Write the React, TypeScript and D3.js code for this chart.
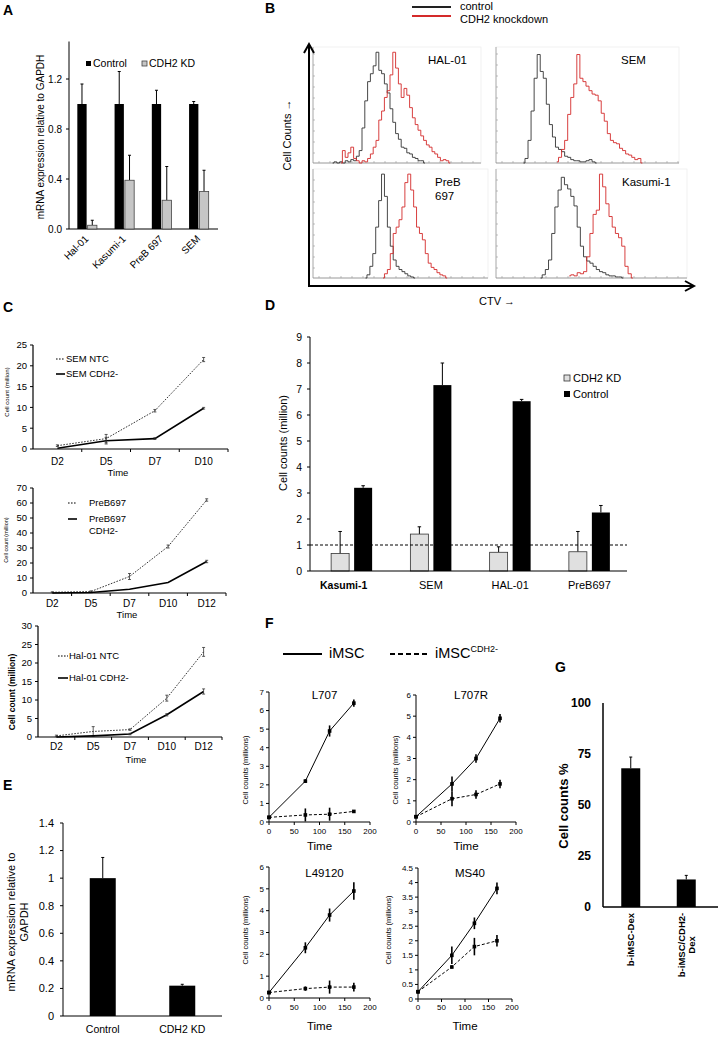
import React from "react";
import * as d3 from "d3";

const FONT = "'Liberation Sans', Arial, Helvetica, sans-serif";

// ---- A: mRNA expression, 4 cell lines
const aLines = ["Hal-01", "Kasumi-1", "PreB 697", "SEM"];
const aControl = [1, 1, 1, 1];
const aControlErr = [0.16, 0.26, 0.11, 0.02];
const aKD = [0.03, 0.39, 0.23, 0.3];
const aKDErr = [0.04, 0.2, 0.27, 0.17];
const aTicks = [0, 0.4, 0.8, 1.2];

// ---- B: CTV histograms (bin start + heights, % of panel max)
const bHalCtrl = { start: 7, h: [0, 1, 0, 1, 0, 2, 1, 3, 2, 6, 11, 31, 55, 72, 79, 86, 98, 82, 79, 70, 62, 48, 36, 26, 21, 14, 13, 9, 8, 5, 4, 2, 2, 0] };
const bHalKD = { start: 10, h: [0, 11, 5, 9, 14, 4, 2, 0, 2, 1, 4, 8, 14, 20, 38, 46, 58, 64, 78, 98, 84, 70, 58, 66, 60, 49, 40, 34, 29, 24, 20, 16, 14, 10, 8, 5, 2, 3, 2, 0] };
const bSemCtrl = { start: 9, h: [0, 4, 20, 46, 75, 96, 81, 75, 52, 34, 23, 14, 12, 10, 6, 5, 3, 2, 2, 1, 1, 2, 3, 1, 0] };
const bSemKD = { start: 20, h: [1, 5, 12, 20, 43, 58, 70, 96, 75, 72, 68, 64, 61, 60, 55, 44, 37, 26, 20, 18, 17, 13, 11, 8, 7, 5, 3, 4, 0] };
const bPreCtrl = { start: 18, h: [0, 3, 11, 23, 48, 73, 98, 77, 48, 30, 17, 11, 8, 6, 4, 2, 1, 0] };
const bPreKD = { start: 24, h: [0, 4, 8, 23, 42, 48, 55, 67, 90, 98, 83, 67, 48, 42, 36, 23, 14, 10, 8, 5, 3, 2, 0] };
const bKasCtrl = { start: 14, h: [0, 3, 8, 17, 42, 67, 83, 95, 88, 84, 77, 68, 48, 30, 20, 16, 14, 11, 8, 6, 5, 3, 2, 2, 1, 1, 0] };
const bKasKD = { start: 23, h: [2, 3, 2, 5, 4, 6, 20, 42, 60, 64, 98, 86, 70, 58, 48, 42, 38, 30, 11, 4, 0] };

// ---- C: growth curves
const cDays4 = ["D2", "D5", "D7", "D10"];
const cDays5 = ["D2", "D5", "D7", "D10", "D12"];
const cSemNTC = [0.8, 2.5, 9.2, 21.5];
const cSemNTCErr = [0.2, 1.0, 0.3, 0.5];
const cSemKD = [0.2, 2.0, 2.5, 9.8];
const cSemKDErr = [0, 0.8, 0.2, 0.2];
const cPreNTC = [0.5, 1, 11, 31, 62];
const cPreNTCErr = [0.3, 0.4, 2, 1, 0.8];
const cPreKD = [0, 0.3, 2.5, 7, 21];
const cPreKDErr = [0, 0, 0, 0, 0.8];
const cHalNTC = [0.3, 1.5, 2, 10.5, 23];
const cHalNTCErr = [0.2, 1.3, 0.2, 0.8, 1.2];
const cHalKD = [0, 0.3, 0.8, 6, 12.3];
const cHalKDErr = [0, 0, 0.2, 0.3, 0.7];

// ---- D: cell counts
const dLines = ["Kasumi-1", "SEM", "HAL-01", "PreB697"];
const dKD = [0.67, 1.42, 0.72, 0.74];
const dKDErr = [0.85, 0.28, 0.21, 0.78];
const dControl = [3.2, 7.15, 6.53, 2.25];
const dControlErr = [0.08, 0.85, 0.07, 0.27];

// ---- E: mRNA
const eGroups = ["Control", "CDH2 KD"];
const eVals = [1.0, 0.22];
const eErr = [0.15, 0.01];

// ---- F: iMSC co-culture time courses
const fHours = [0, 72, 120, 168];
const fXTicks = [0, 50, 100, 150, 200];
const fL707 = [0.25, 2.2, 4.9, 6.4];
const fL707Err = [0.05, 0.1, 0.3, 0.2];
const fL707KD = [0.25, 0.38, 0.42, 0.57];
const fL707KDErr = [0.05, 0.35, 0.35, 0.08];
const fL707R = [0.25, 1.8, 3.0, 4.9];
const fL707RErr = [0.05, 0.35, 0.2, 0.2];
const fL707RKD = [0.25, 1.1, 1.3, 1.8];
const fL707RKDErr = [0.05, 0.35, 0.2, 0.2];
const fL49120 = [0.25, 2.3, 3.8, 4.9];
const fL49120Err = [0.05, 0.25, 0.3, 0.4];
const fL49120KD = [0.25, 0.43, 0.5, 0.5];
const fL49120KDErr = [0.05, 0.1, 0.3, 0.2];
const fMS40 = [0.25, 1.5, 2.6, 3.8];
const fMS40Err = [0.05, 0.3, 0.2, 0.2];
const fMS40KD = [0.25, 1.1, 1.8, 2.0];
const fMS40KDErr = [0.05, 0.05, 0.3, 0.2];

// ---- G: cell counts %
const gLabels = [["b-iMSC-Dex"], ["b-iMSC/CDH2-", "Dex"]];
const gVals = [68, 13.5];
const gErr = [5.5, 2];
const gTicks = [0, 25, 50, 75, 100];

function UpErr({ x, y0, y1, cap = 3 }: any) {
  return (
    <g stroke="#000" strokeWidth={1}>
      <line x1={x} x2={x} y1={y0} y2={y1} />
      <line x1={x - cap / 2} x2={x + cap / 2} y1={y1} y2={y1} />
    </g>
  );
}

function YAxis({ y, x, ticks, top, fs, gap = 6, fmt = (t: number) => String(t), bold = false, tick = 3, sw = 1 }: any) {
  return (
    <g>
      <line x1={x} x2={x} y1={y.range()[0]} y2={top ?? y.range()[1]} stroke="#000" strokeWidth={sw} />
      {ticks.map((t: number) => (
        <g key={t}>
          {tick > 0 && <line x1={x - tick} x2={x} y1={y(t)} y2={y(t)} stroke="#000" />}
          <text x={x - gap} y={y(t)} dy="0.35em" textAnchor="end" fontSize={fs} fontWeight={bold ? "bold" : "normal"}>
            {fmt(t)}
          </text>
        </g>
      ))}
    </g>
  );
}

function VText({ x, y, fs, children, bold = false, anchor = "middle" }: any) {
  return (
    <text transform={`translate(${x},${y}) rotate(-90)`} textAnchor={anchor} dominantBaseline="central" fontSize={fs} fontWeight={bold ? "bold" : "normal"}>
      {children}
    </text>
  );
}

function PanelA() {
  const x = d3.scaleBand<string>().domain(aLines).range([69, 218]);
  const y = d3.scaleLinear().domain([0, 1.5]).range([229, 41.5]);
  const bw = 9.3;
  return (
    <g>
      <text x={3} y={15} fontSize={14} fontWeight="bold">A</text>
      <YAxis y={y} x={69} ticks={aTicks} fs={10} gap={7} fmt={(t: number) => t.toFixed(1)} />
      <line x1={69} x2={218} y1={229} y2={229} stroke="#000" />
      {aLines.map((name, i) => {
        const c = x(name)! + x.bandwidth() / 2;
        return (
          <g key={name}>
            <UpErr x={c - 1 - bw / 2} y0={y(aControl[i])} y1={y(aControl[i] + aControlErr[i])} />
            <rect x={c - 1 - bw} y={y(aControl[i])} width={bw} height={y(0) - y(aControl[i])} fill="#000" />
            <UpErr x={c + bw / 2} y0={y(aKD[i])} y1={y(aKD[i] + aKDErr[i])} />
            <rect x={c} y={y(aKD[i])} width={bw} height={y(0) - y(aKD[i])} fill="#c6c6c6" stroke="#444" strokeWidth={0.8} />
            <text transform={`translate(${c - 1},${237}) rotate(-45)`} textAnchor="end" dominantBaseline="central" fontSize={10}>
              {name}
            </text>
          </g>
        );
      })}
      <rect x={86} y={61} width={5} height={5} fill="#000" />
      <text x={93} y={67} fontSize={10.5}>Control</text>
      <rect x={142} y={61} width={5} height={5} fill="#c6c6c6" stroke="#444" strokeWidth={0.8} />
      <text x={149} y={67} fontSize={10.5}>CDH2 KD</text>
      <VText x={40} y={137} fs={10}>mRNA expression relative to GAPDH</VText>
    </g>
  );
}

function Histo({ x0, x1, yb, yt, ctrl, kd, label }: any) {
  const x = d3.scaleLinear().domain([0, 60]).range([x0, x1]);
  const y = d3.scaleLinear().domain([0, 100]).range([yb, yt]);
  const line = d3
    .line<[number, number]>()
    .x((d) => x(d[0]))
    .y((d) => y(d[1]))
    .curve(d3.curveStep);
  const pts = (s: any) => s.h.map((v: number, i: number) => [s.start + i, v] as [number, number]);
  const bottomTicks = d3.range(x0 + 6, x1, 11);
  const leftTicks = d3.range(yb - 10, yt, -11);
  return (
    <g>
      <rect x={x0} y={yt - 3} width={x1 - x0} height={yb - yt + 3} fill="none" stroke="#eee" strokeWidth={0.8} />
      <line x1={x0} x2={x0} y1={yt - 3} y2={yb} stroke="#999" strokeWidth={0.8} />
      <line x1={x0} x2={x1} y1={yb} y2={yb} stroke="#888" strokeWidth={0.8} />
      {bottomTicks.map((t) => (
        <line key={"b" + t} x1={t} x2={t} y1={yb} y2={yb - 2} stroke="#999" strokeWidth={0.6} />
      ))}
      {leftTicks.map((t) => (
        <line key={"l" + t} x1={x0} x2={x0 + 2} y1={t} y2={t} stroke="#999" strokeWidth={0.6} />
      ))}
      <path d={line(pts(ctrl))!} fill="none" stroke="#333" strokeWidth={0.9} />
      <path d={line(pts(kd))!} fill="none" stroke="#d42a2a" strokeWidth={0.9} />
      {label}
    </g>
  );
}

function PanelB() {
  return (
    <g>
      <text x={265} y={13} fontSize={14} fontWeight="bold">B</text>
      <line x1={412} x2={451} y1={7} y2={7} stroke="#222" strokeWidth={2} />
      <line x1={412} x2={451} y1={16} y2={16} stroke="#d42a2a" strokeWidth={2} />
      <text x={460} y={10} fontSize={11}>control</text>
      <text x={460} y={23} fontSize={11}>CDH2 knockdown</text>
      <Histo x0={313} x1={481} yb={163} yt={50} ctrl={bHalCtrl} kd={bHalKD}
        label={<text x={428} y={64} fontSize={11.5}>HAL-01</text>} />
      <Histo x0={496} x1={679} yb={163} yt={50} ctrl={bSemCtrl} kd={bSemKD}
        label={<text x={621} y={64} fontSize={11.5}>SEM</text>} />
      <Histo x0={313} x1={488} yb={278} yt={172} ctrl={bPreCtrl} kd={bPreKD}
        label={<text x={435} y={186} fontSize={11.5}><tspan x={435}>PreB</tspan><tspan x={435} dy={13.5}>697</tspan></text>} />
      <Histo x0={496} x1={687} yb={278} yt={172} ctrl={bKasCtrl} kd={bKasKD}
        label={<text x={622} y={186} fontSize={11.5}>Kasumi-1</text>} />
      <g stroke="#000" strokeWidth={2} fill="none">
        <path d="M309,287 L309,45" />
        <path d="M304,53 L309,44 L314,53" />
        <path d="M308,286 L693,286" />
        <path d="M685,281 L694,286 L685,291" />
      </g>
      <VText x={287} y={135} fs={11}>Cell Counts →</VText>
      <text x={497} y={305} fontSize={11} textAnchor="middle">CTV →</text>
    </g>
  );
}

function DayChart({ days, series, yMax, yStep, x0, x1, yb, yt, dayY, timeX, timeY, fs }: any) {
  const x = d3.scaleBand<string>().domain(days).range([x0, x1]);
  const y = d3.scaleLinear().domain([0, yMax]).range([yb, yt]);
  const ticks = d3.range(0, yMax + yStep / 2, yStep);
  const cx = (d: string) => x(d)! + x.bandwidth() / 2;
  return (
    <g>
      <YAxis y={y} x={x0} ticks={ticks} fs={fs} gap={6} sw={1.2} />
      <line x1={x0} x2={x1} y1={yb} y2={yb} stroke="#000" strokeWidth={1.2} />
      {days.map((d: string) => (
        <line key={"t" + d} x1={x(d)! + x.bandwidth()} x2={x(d)! + x.bandwidth()} y1={yb} y2={yb + 3} stroke="#000" />
      ))}
      {days.map((d: string) => (
        <text key={d} x={cx(d)} y={dayY} textAnchor="middle" fontSize={fs + 0.5}>{d}</text>
      ))}
      <text x={timeX} y={timeY} textAnchor="middle" fontSize={fs}>Time</text>
      {series.map((s: any, k: number) => {
        const line = d3
          .line<number>()
          .x((_, i) => cx(days[i]))
          .y((v) => y(v));
        return (
          <g key={k}>
            <path d={line(s.vals)!} fill="none" stroke={s.dotted ? "#333" : "#000"} strokeWidth={s.dotted ? 1 : 1.6}
              strokeDasharray={s.dotted ? "1.6,1.4" : undefined} />
            {s.vals.map((v: number, i: number) =>
              s.errs[i] > 0 ? (
                <g key={i} stroke="#333" strokeWidth={0.8}>
                  <line x1={cx(days[i])} x2={cx(days[i])} y1={y(v - s.errs[i])} y2={y(v + s.errs[i])} />
                  <line x1={cx(days[i]) - 1.5} x2={cx(days[i]) + 1.5} y1={y(v - s.errs[i])} y2={y(v - s.errs[i])} />
                  <line x1={cx(days[i]) - 1.5} x2={cx(days[i]) + 1.5} y1={y(v + s.errs[i])} y2={y(v + s.errs[i])} />
                </g>
              ) : null
            )}
          </g>
        );
      })}
    </g>
  );
}

function LegendLine({ x, y, w, dotted, fs, children }: any) {
  return (
    <g>
      <line x1={x} x2={x + w} y1={y} y2={y} stroke="#000" strokeWidth={dotted ? 1 : 1.6} strokeDasharray={dotted ? "1.6,1.4" : undefined} />
      <text x={x + w + 1} y={y} dy="0.35em" fontSize={fs}>{children}</text>
    </g>
  );
}

function PanelC() {
  return (
    <g>
      <text x={3} y={312} fontSize={14} fontWeight="bold">C</text>
      <DayChart days={cDays4} yMax={25} yStep={5} x0={33} x1={228} yb={449} yt={345} dayY={465} timeX={118} timeY={476} fs={9.5}
        series={[{ vals: cSemNTC, errs: cSemNTCErr, dotted: true }, { vals: cSemKD, errs: cSemKDErr, dotted: false }]} />
      <LegendLine x={56} y={359} w={9} dotted fs={9.5}>SEM NTC</LegendLine>
      <LegendLine x={56} y={374} w={9} dotted={false} fs={9.5}>SEM CDH2-</LegendLine>
      <VText x={7} y={392} fs={6}>Cell count (million)</VText>

      <DayChart days={cDays5} yMax={70} yStep={10} x0={33} x1={226} yb={593} yt={488} dayY={607} timeX={127} timeY={618} fs={9.5}
        series={[{ vals: cPreNTC, errs: cPreNTCErr, dotted: true }, { vals: cPreKD, errs: cPreKDErr, dotted: false }]} />
      <line x1={68} x2={77} y1={503} y2={503} stroke="#000" strokeDasharray="1.6,1.4" />
      <line x1={68} x2={77} y1={519} y2={519} stroke="#000" strokeWidth={1.6} />
      <text x={89} y={503} dy="0.35em" fontSize={9.5}>PreB697</text>
      <text x={89} y={519} dy="0.35em" fontSize={9.5}>PreB697</text>
      <text x={89} y={531} dy="0.35em" fontSize={9.5}>CDH2-</text>
      <VText x={6} y={540} fs={5.5}>Cell count (million)</VText>

      <DayChart days={cDays5} yMax={30} yStep={5} x0={38} x1={222} yb={737} yt={626} dayY={750} timeX={136} timeY={763} fs={9.5}
        series={[{ vals: cHalNTC, errs: cHalNTCErr, dotted: true }, { vals: cHalKD, errs: cHalKDErr, dotted: false }]} />
      <LegendLine x={58} y={656} w={10} dotted fs={9.5}>Hal-01 NTC</LegendLine>
      <LegendLine x={58} y={678} w={10} dotted={false} fs={9.5}>Hal-01 CDH2-</LegendLine>
      <VText x={12} y={692} fs={8.5} bold>Cell count (million)</VText>
    </g>
  );
}

function PanelD() {
  const x = d3.scaleBand<string>().domain(dLines).range([310, 627]);
  const y = d3.scaleLinear().domain([0, 9]).range([571, 337]);
  const bw = 18;
  return (
    <g>
      <text x={265} y={310} fontSize={14} fontWeight="bold">D</text>
      <YAxis y={y} x={310} ticks={d3.range(0, 10)} fs={10.5} gap={8} />
      {dLines.map((name, i) => {
        const c = x(name)! + x.bandwidth() / 2;
        return (
          <g key={name}>
            <UpErr x={c - 18.5 + bw / 2} y0={y(dKD[i])} y1={y(dKD[i] + dKDErr[i])} cap={3.5} />
            <rect x={c - 18.5} y={y(dKD[i])} width={bw} height={y(0) - y(dKD[i])} fill="#e0e0e0" stroke="#333" strokeWidth={0.8} />
            <UpErr x={c + 4.5 + bw / 2} y0={y(dControl[i])} y1={y(dControl[i] + dControlErr[i])} cap={3.5} />
            <rect x={c + 4.5} y={y(dControl[i])} width={bw} height={y(0) - y(dControl[i])} fill="#000" />
            <text x={i === 0 ? c - 6 : c + 2} y={589} textAnchor="middle" fontSize={i === 0 ? 10.5 : 11} fontWeight={i === 0 ? "bold" : "normal"}>
              {name}
            </text>
          </g>
        );
      })}
      <line x1={310} x2={627} y1={y(1)} y2={y(1)} stroke="#000" strokeDasharray="3,2" />
      <line x1={310} x2={627} y1={571} y2={571} stroke="#000" strokeWidth={1.1} />
      <rect x={564} y={375} width={6} height={6} fill="#e0e0e0" stroke="#333" strokeWidth={0.8} />
      <text x={573} y={382} fontSize={11}>CDH2 KD</text>
      <rect x={564} y={391} width={6} height={6} fill="#000" />
      <text x={573} y={398} fontSize={11}>Control</text>
      <VText x={283} y={443} fs={11}>Cell counts (million)</VText>
    </g>
  );
}

function PanelE() {
  const x = d3.scaleBand<string>().domain(eGroups).range([63, 222]);
  const y = d3.scaleLinear().domain([0, 1.4]).range([1016, 823]);
  const bw = 26;
  return (
    <g>
      <text x={3} y={790} fontSize={14} fontWeight="bold">E</text>
      <YAxis y={y} x={63} ticks={d3.range(0, 1.5, 0.2)} fs={11} gap={9} fmt={(t: number) => String(+t.toFixed(1))} />
      <line x1={63} x2={222} y1={1016} y2={1016} stroke="#000" />
      {eGroups.map((g, i) => {
        const c = x(g)! + x.bandwidth() / 2;
        return (
          <g key={g}>
            <UpErr x={c} y0={y(eVals[i])} y1={y(eVals[i] + eErr[i])} cap={3} />
            <rect x={c - bw / 2} y={y(eVals[i])} width={bw} height={y(0) - y(eVals[i])} fill="#000" />
            <text x={c} y={1033} textAnchor="middle" fontSize={10.5}>{g}</text>
          </g>
        );
      })}
      <VText x={11} y={922} fs={11}>mRNA expression relative to</VText>
      <VText x={24} y={922} fs={11}>GAPDH</VText>
    </g>
  );
}

function TimeChart({ title, ctrl, ctrlErr, kd, kdErr, yMax, yStep, x0, x1, yb, yt, titleY, tickY, timeY, labelX, labelY }: any) {
  const x = d3.scaleLinear().domain([0, 200]).range([x0, x1]);
  const y = d3.scaleLinear().domain([0, yMax]).range([yb, yt]);
  const line = d3
    .line<number>()
    .x((_, i) => x(fHours[i]))
    .y((v) => y(v));
  const series = [
    { vals: ctrl, errs: ctrlErr, dash: undefined },
    { vals: kd, errs: kdErr, dash: "3,2" },
  ];
  return (
    <g>
      <YAxis y={y} x={x0} ticks={d3.range(0, yMax + yStep / 2, yStep)} fs={8} gap={5} />
      <line x1={x0} x2={x1} y1={yb} y2={yb} stroke="#000" />
      {fXTicks.map((t) => (
        <g key={t}>
          <line x1={x(t)} x2={x(t)} y1={yb} y2={yb + 3} stroke="#000" />
          <text x={x(t)} y={tickY} textAnchor="middle" fontSize={8}>{t}</text>
        </g>
      ))}
      <text x={(x0 + x1) / 2} y={timeY} textAnchor="middle" fontSize={11.5}>Time</text>
      <text x={(x0 + x1) / 2 + 5} y={titleY} textAnchor="middle" fontSize={11.5}>{title}</text>
      <VText x={labelX} y={labelY} fs={7.5}>Cell counts (millions)</VText>
      {series.map((s, k) => (
        <g key={k}>
          <path d={line(s.vals)!} fill="none" stroke="#000" strokeWidth={1} strokeDasharray={s.dash} />
          {s.vals.map((v: number, i: number) => (
            <g key={i}>
              <line x1={x(fHours[i])} x2={x(fHours[i])} y1={y(v - s.errs[i])} y2={y(v + s.errs[i])} stroke="#000" strokeWidth={1.6} />
              <rect x={x(fHours[i]) - 1.8} y={y(v) - 1.8} width={3.6} height={3.6} fill="#000" />
            </g>
          ))}
        </g>
      ))}
    </g>
  );
}

function PanelF() {
  return (
    <g>
      <text x={265} y={628} fontSize={14} fontWeight="bold">F</text>
      <line x1={283} x2={322} y1={654} y2={654} stroke="#000" strokeWidth={2} />
      <text x={329} y={658} fontSize={14.5}>iMSC</text>
      <line x1={390} x2={430} y1={654} y2={654} stroke="#000" strokeWidth={2} strokeDasharray="5,3" />
      <text x={435} y={658} fontSize={14.5}>
        iMSC<tspan fontSize={9} dy={-6}>CDH2-</tspan>
      </text>
      <TimeChart title="L707" ctrl={fL707} ctrlErr={fL707Err} kd={fL707KD} kdErr={fL707KDErr} yMax={7} yStep={1}
        x0={269} x1={370} yb={822} yt={692} titleY={699} tickY={834} timeY={850} labelX={245} labelY={770} />
      <TimeChart title="L707R" ctrl={fL707R} ctrlErr={fL707RErr} kd={fL707RKD} kdErr={fL707RKDErr} yMax={6} yStep={1}
        x0={416} x1={516} yb={822} yt={695} titleY={699} tickY={834} timeY={850} labelX={395} labelY={770} />
      <TimeChart title="L49120" ctrl={fL49120} ctrlErr={fL49120Err} kd={fL49120KD} kdErr={fL49120KDErr} yMax={6} yStep={1}
        x0={269} x1={370} yb={998} yt={867} titleY={877} tickY={1010} timeY={1030} labelX={245} labelY={930} />
      <TimeChart title="MS40" ctrl={fMS40} ctrlErr={fMS40Err} kd={fMS40KD} kdErr={fMS40KDErr} yMax={4.5} yStep={0.5}
        x0={418} x1={512} yb={999} yt={868} titleY={877} tickY={1010} timeY={1030} labelX={388} labelY={930} />
    </g>
  );
}

function PanelG() {
  const names = gLabels.map((l) => l.join(""));
  const x = d3.scaleBand<string>().domain(names).range([603, 714]);
  const y = d3.scaleLinear().domain([0, 100]).range([907, 703]);
  const bw = 19;
  return (
    <g>
      <text x={555} y={672} fontSize={14} fontWeight="bold">G</text>
      <YAxis y={y} x={603} ticks={gTicks} fs={12} gap={12} bold tick={0} sw={1.5} />
      <line x1={603} x2={718} y1={907} y2={907} stroke="#000" strokeWidth={1.5} />
      {names.map((n, i) => {
        const c = x(n)! + x.bandwidth() / 2;
        const lines = gLabels[i];
        return (
          <g key={n}>
            <UpErr x={c} y0={y(gVals[i])} y1={y(gVals[i] + gErr[i])} cap={3} />
            <rect x={c - bw / 2} y={y(gVals[i])} width={bw} height={y(0) - y(gVals[i])} fill="#000" />
            {lines.map((l, j) => (
              <VText key={l} x={c - (lines.length - 1) * 5 + j * 10} y={lines.length === 1 ? 913 : 945} fs={9.5} bold anchor={lines.length === 1 ? "end" : "middle"}>
                {l}
              </VText>
            ))}
          </g>
        );
      })}
      <VText x={563} y={806} fs={13} bold>Cell counts %</VText>
    </g>
  );
}

export default function App() {
  return (
    <div style={{ position: "absolute", left: 0, top: 0 }}>
      <svg width={718} height={1037} style={{ display: "block", background: "#fff", fontFamily: FONT }}>
        <PanelA />
        <PanelB />
        <PanelC />
        <PanelD />
        <PanelE />
        <PanelF />
        <PanelG />
      </svg>
    </div>
  );
}
